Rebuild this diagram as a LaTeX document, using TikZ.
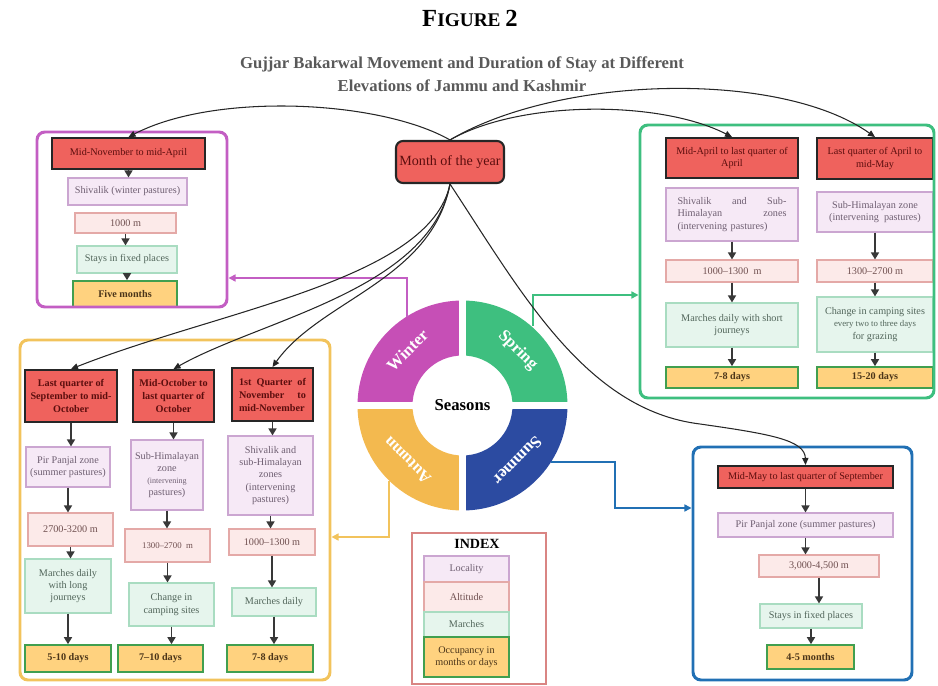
\documentclass[tikz,border=0pt]{standalone}
\usepackage{fontspec}
\setmainfont{Liberation Serif}
\usetikzlibrary{arrows.meta}

\definecolor{periodred}{HTML}{EF625D}
\definecolor{periodtxt}{HTML}{5C0E0E}
\definecolor{locfill}{HTML}{F6E9F6}
\definecolor{locline}{HTML}{CBA6D1}
\definecolor{loctxt}{HTML}{6F5F72}
\definecolor{altfill}{HTML}{FCEAE9}
\definecolor{altline}{HTML}{E4A9A7}
\definecolor{alttxt}{HTML}{705050}
\definecolor{marchfill}{HTML}{E6F5ED}
\definecolor{marchline}{HTML}{A9DCC1}
\definecolor{marchtxt}{HTML}{52665B}
\definecolor{occfill}{HTML}{FFD27F}
\definecolor{occline}{HTML}{419F4F}
\definecolor{occtxt}{HTML}{4B3519}
\definecolor{wintcol}{HTML}{C64FB6}
\definecolor{springcol}{HTML}{3EBF7F}
\definecolor{summercol}{HTML}{2C4BA1}
\definecolor{autumncol}{HTML}{F3B94F}
\definecolor{wintline}{HTML}{C35EC3}
\definecolor{summerline}{HTML}{2170B4}
\definecolor{autumnline}{HTML}{F2C35C}
\definecolor{indexline}{HTML}{D98583}
\definecolor{titlegray}{HTML}{595959}

\tikzset{
  sz/.style 2 args={minimum width=#1*0.02cm,minimum height=#2*0.02cm},
  cell/.style={draw,font=\fontsize{5.8}{7}\selectfont,inner sep=1pt,align=center,line width=0.6pt},
  periodbox/.style={cell,fill=periodred,draw=black!85,line width=1.1pt,text=periodtxt},
  locbox/.style={cell,fill=locfill,draw=locline,text=loctxt},
  altbox/.style={cell,fill=altfill,draw=altline,text=alttxt},
  marchbox/.style={cell,fill=marchfill,draw=marchline,text=marchtxt},
  occbox/.style={cell,fill=occfill,draw=occline,line width=0.9pt,text=occtxt,font=\fontsize{5.8}{7}\selectfont\bfseries},
  seasonframe/.style={draw=#1,rounded corners=4.5pt,line width=1.7pt},
  flow/.style={draw=black!78,line width=1.1pt,-{Triangle[length=4pt,width=4.5pt]}},
  monthlink/.style={draw=black!85,line width=0.6pt,-{Triangle[length=4pt,width=3.5pt]}},
  seasonlink/.style={draw=#1,line width=0.8pt,-{Triangle[length=4pt,width=4pt]}},
  seasonlbl/.style={text=white,inner sep=0pt,font=\fontsize{9.5}{9.5}\selectfont\bfseries},
}

\begin{document}
\begin{tikzpicture}[x=0.02cm,y=-0.02cm]
	\useasboundingbox (0,0) rectangle (938,686);

	\node[font=\bfseries] (fig) at (470,18) {\fontsize{14}{14}\selectfont F\fontsize{11}{11}\selectfont IGURE \fontsize{14}{14}\selectfont 2};
	\node[text=titlegray,align=center,font=\fontsize{9.5}{13}\selectfont\bfseries] (title) at (462,74) {Gujjar Bakarwal Movement and Duration of Stay at Different\\Elevations of Jammu and Kashmir};

	\node[periodbox,rounded corners=4pt,line width=1.2pt,sz={108}{42},font=\fontsize{8}{8}\selectfont] (month) at (450,162) {Month of the year};

	\begin{scope}
		\node[periodbox,sz={153}{31}] (wh) at (128.5,153.5) {Mid-November to mid-April};
		\node[locbox,sz={119}{27}] (wl) at (127.5,191.5) {Shivalik (winter pastures)};
		\node[altbox,sz={101}{20}] (wa) at (125.5,223) {1000 m};
		\node[marchbox,sz={100}{27}] (wm) at (127,259.5) {Stays in fixed places};
		\node[occbox,sz={104}{26}] (wo) at (125,294) {Five months};
	\end{scope}

	\begin{scope}
		\node[periodbox,sz={132}{40}] (s1h) at (732,158) {Mid-April to last quarter of\\April};
		\node[periodbox,sz={116}{41}] (s2h) at (875,158.5) {Last quarter of April to\\mid-May};
		\node[locbox,sz={132}{53},text width=2.18cm,align=left] (s1l) at (732,214.5) {Shivalik \hfill and \hfill Sub-\\Himalayan \hfill zones\\(intervening pastures)};
		\node[locbox,sz={116}{40}] (s2l) at (875,212) {Sub-Himalayan zone\\(intervening\ \ pastures)};
		\node[altbox,sz={132}{22}] (s1a) at (732,271) {1000--1300\ \ m};
		\node[altbox,sz={116}{22}] (s2a) at (875,271) {1300--2700 m};
		\node[marchbox,sz={132}{44}] (s1m) at (732,325) {Marches daily with short\\journeys};
		\node[marchbox,sz={116}{55}] (s2m) at (875,324.5) {Change in camping sites\\{\fontsize{5}{7}\selectfont every two to three days}\\for grazing};
		\node[occbox,sz={132}{21}] (s1o) at (732,377.5) {7-8 days};
		\node[occbox,sz={116}{21}] (s2o) at (875,377.5) {15-20 days};
	\end{scope}

	\begin{scope}[every node/.append style={font=\fontsize{5.8}{7.4}\selectfont}]
		\node[periodbox,sz={92}{52},font=\fontsize{5.8}{7.4}\selectfont\bfseries] (a1h) at (71,396) {Last quarter of\\September to mid-\\October};
		\node[periodbox,sz={81}{52},font=\fontsize{5.8}{7.4}\selectfont\bfseries] (a2h) at (173.5,396) {Mid-October to\\last quarter of\\October};
		\node[periodbox,sz={81}{53},text width=1.34cm,align=left,font=\fontsize{5.8}{7.4}\selectfont\bfseries] (a3h) at (272.5,394.5) {1st \hfill Quarter \hfill of\\November \hfill to\\mid-November};
		\node[locbox,sz={84}{40}] (a1l) at (68,467) {Pir Panjal zone\\(summer pastures)};
		\node[locbox,sz={72}{70}] (a2l) at (167,475) {Sub-Himalayan\\zone\\{\fontsize{4.6}{6}\selectfont(intervening}\\pastures)};
		\node[locbox,sz={85}{79}] (a3l) at (270.5,475.5) {Shivalik and\\sub-Himalayan\\zones\\(intervening\\pastures)};
		\node[altbox,sz={85}{33}] (a1a) at (70.5,529.5) {2700-3200 m};
		\node[altbox,sz={85}{33},font=\fontsize{5}{7}\selectfont] (a2a) at (167.5,545.5) {1300--2700\ \ m};
		\node[altbox,sz={86}{26}] (a3a) at (272,542) {1000--1300 m};
		\node[marchbox,sz={86}{54}] (a1m) at (68,586) {Marches daily\\with long\\journeys};
		\node[marchbox,sz={85}{43}] (a2m) at (171.5,604.5) {Change in\\camping sites};
		\node[marchbox,sz={84}{28}] (a3m) at (274,602) {Marches daily};
		\node[occbox,sz={86}{27}] (a1o) at (68,658.5) {5-10 days};
		\node[occbox,sz={85}{27}] (a2o) at (160.5,658.5) {7--10 days};
		\node[occbox,sz={86}{27}] (a3o) at (270,658.5) {7-8 days};
	\end{scope}

	\begin{scope}
		\node[periodbox,sz={175}{22}] (uh) at (805.5,477) {Mid-May to last quarter of September};
		\node[locbox,sz={175}{24}] (ul) at (805.5,525) {Pir Panjal zone (summer pastures)};
		\node[altbox,sz={120}{22}] (ua) at (819,566) {3,000-4,500 m};
		\node[marchbox,sz={102}{24}] (um) at (811,616) {Stays in fixed places};
		\node[occbox,sz={87}{24}] (uo) at (810.5,657) {4-5 months};
	\end{scope}

	\node[font=\fontsize{8}{8}\selectfont\bfseries] (idx) at (477,544) {INDEX};
	\node[locbox,sz={85}{26}] (il) at (466.5,569) {Locality};
	\node[altbox,sz={85}{30}] (ia) at (466.5,597) {Altitude};
	\node[marchbox,sz={85}{25}] (im) at (466.5,624.5) {Marches};
	\node[occbox,sz={85}{40},font=\fontsize{5.8}{7}\selectfont] (io) at (466.5,657) {Occupancy in\\months or days};

	\node[seasonframe=wintline,sz={190}{175}] (wframe) at (132,219.5) {};
	\node[seasonframe=springcol,sz={294}{273}] (sframe) at (787,261.5) {};
	\node[seasonframe=autumnline,sz={310}{340}] (aframe) at (175,510) {};
	\node[seasonframe=summerline,sz={219}{233}] (uframe) at (802.5,563.5) {};
	\node[draw=indexline,line width=1pt,sz={134}{151}] (iframe) at (479,608.5) {};

	\path (wh.south) edge[flow] (wh.south |- wl.north);
	\path (wa.south) edge[flow] (wa.south |- wm.north);
	\path (wm.south) edge[flow] (wm.south |- wo.north);

	\path (s1l.south) edge[flow] (s1l.south |- s1a.north);
	\path (s1a.south) edge[flow] (s1a.south |- s1m.north);
	\path (s1m.south) edge[flow] (s1m.south |- s1o.north);
	\path (s2l.south) edge[flow] (s2l.south |- s2a.north);
	\path (s2a.south) edge[flow] (s2a.south |- s2m.north);
	\path (s2m.south) edge[flow] (s2m.south |- s2o.north);

	\path (a1h.south) edge[flow] (a1h.south |- a1l.north);
	\path (a1l.south) edge[flow] (a1l.south |- a1a.north);
	\path (a1a.south) edge[flow] (a1a.south |- a1m.north);
	\path (a1m.south) edge[flow] (a1m.south |- a1o.north);
	\path (a2h.south) edge[flow] (a2h.south |- a2l.north);
	\path (a2l.south) edge[flow] (a2l.south |- a2a.north);
	\path (a2a.south) edge[flow] (a2a.south |- a2m.north);
	\path (a2m.south) edge[flow] (a2m.south |- a2o.north);
	\path (a3h.south) edge[flow] (a3h.south |- a3l.north);
	\path (a3l.south) edge[flow] (a3l.south |- a3a.north);
	\path (a3a.south) edge[flow] (a3a.south |- a3m.north);
	\path (a3m.south) edge[flow] (a3m.south |- a3o.north);

	\path (uh.south) edge[flow] (uh.south |- ul.north);
	\path (ul.south) edge[flow] (ul.south |- ua.north);
	\path (ua.south) edge[flow] (ua.south |- um.north);
	\path (um.south) edge[flow] (um.south |- uo.north);

	\begin{scope}[shift={(462.5,405.5)},yscale=-1]
		\foreach \a/\c in {90/wintcol,0/springcol,-90/summercol,180/autumncol}
			\fill[\c] (\a:50) -- (\a:105) arc[start angle=\a,end angle=\a+90,radius=105] -- ({\a+90}:50) arc[start angle=\a+90,end angle=\a,radius=50] -- cycle;
		\draw[white,line width=0.13cm] (-110,0) -- (110,0) (0,-110) -- (0,110);
		\node[seasonlbl,rotate=45] (winter) at (135:78) {Winter};
		\node[seasonlbl,rotate=-45] (spring) at (45:78) {Spring};
		\node[seasonlbl,rotate=-135] (summer) at (-45:78) {Summer};
		\node[seasonlbl,rotate=135] (autumn) at (-135:78) {Autumn};
		\node[font=\fontsize{9.5}{9.5}\selectfont\bfseries] (seasons) at (0,0) {Seasons};
	\end{scope}

	\coordinate (wstart) at (407,317);
	\coordinate (wbend) at (407,278);
	\coordinate (sstart) at (533,326);
	\coordinate (sbend) at (533,295);
	\coordinate (ustart) at (551,462);
	\coordinate (ubend) at (615,508);
	\coordinate (astart) at (389,481);
	\coordinate (abend) at (389,537);
	\draw[seasonlink=wintline] (wstart) -- (wbend) -- (wbend -| wframe.east);
	\draw[seasonlink=springcol] (sstart) -- (sbend) -- (sbend -| sframe.west);
	\draw[seasonlink=summerline] (ustart) -| (ubend) -- (ubend -| uframe.west);
	\draw[seasonlink=autumnline] (astart) -- (abend) -- (abend -| aframe.east);

	\coordinate (ubow) at (700,424);
	\draw[monthlink] (month.north) .. controls (380,100) and (215,92) .. (wh.north);
	\draw[monthlink] (month.north) .. controls (520,100) and (660,100) .. (s1h.north);
	\draw[monthlink] (month.north) .. controls (560,75) and (780,70) .. (s2h.north);
	\draw[monthlink] (month.south) .. controls (430,280) and (220,310) .. (a1h.north);
	\draw[monthlink] (month.south) .. controls (430,290) and (260,320) .. (a2h.north);
	\draw[monthlink] (month.south) .. controls (432,280) and (320,300) .. (a3h.north);
	\draw[monthlink] (month.south) .. controls (520,290) and (585,410) .. (ubow) .. controls (770,434) and (805,440) .. (uh.north);
\end{tikzpicture}
\end{document}
